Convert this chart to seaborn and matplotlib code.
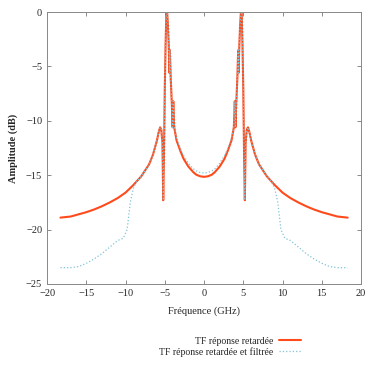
import numpy as np
import pandas as pd
import matplotlib
matplotlib.use("Agg")
import matplotlib.pyplot as plt
import seaborn as sns

# left half (x <= 0); the spectra are symmetric about 0 GHz
red_f_left = [-18.3, -17, -16, -15, -14, -13, -12, -11, -10, -9, -8, -7, -6.5, -6, -5.8, -5.6,
              -5.45, -5.3, -5.2, -5.1, -5.0, -4.9, -4.8, -4.7, -4.6, -4.5, -4.4, -4.35, -4.25,
              -4.1, -4.0, -3.92, -3.8, -3.5, -3.0, -2.6, -2.0, -1.4, -1.0, -0.5, 0.0]
red_left = [-18.9, -18.8, -18.6, -18.4, -18.15, -17.85, -17.5, -17.1, -16.6, -15.9, -15.1, -14.0,
            -13.1, -11.8, -11.1, -10.6, -10.8, -12.0, -17.3, -13.0, -7.0, -3.0, 0.0, 0.0, -1.2,
            -3.0, -5.6, -3.5, -6.0, -8.5, -10.6, -8.2, -10.6, -11.8, -12.8, -13.5, -14.2, -14.7,
            -14.95, -15.1, -15.15]

blue_f_left = [-18.3, -17, -16, -15, -14, -13, -12, -11, -10.3, -9.8, -9.4, -9.0, -8.6, -8, -7,
               -6.5, -6, -5.8, -5.6, -5.45, -5.3, -5.2, -5.1, -5.0, -4.9, -4.8, -4.7, -4.6, -4.5,
               -4.4, -4.35, -4.25, -4.1, -4.0, -3.92, -3.8, -3.5, -3.0, -2.6, -2.0, -1.4, -1.0,
               -0.5, 0.0]
blue_left = [-23.5, -23.5, -23.4, -23.1, -22.7, -22.2, -21.6, -21.0, -20.8, -20.0, -17.5, -16.2,
             -15.6, -15.1, -14.0, -13.1, -11.8, -11.1, -10.6, -10.8, -12.0, -17.3, -13.0, -7.0,
             -3.0, 0.0, 0.0, -1.2, -3.0, -5.6, -3.5, -6.0, -8.5, -10.6, -8.2, -10.5, -11.6,
             -12.6, -13.2, -13.9, -14.4, -14.6, -14.75, -14.8]

red_f = red_f_left + [-f for f in red_f_left[-2::-1]]
red = red_left + red_left[-2::-1]
blue_f = blue_f_left + [-f for f in blue_f_left[-2::-1]]
blue = blue_left + blue_left[-2::-1]

df_red = pd.DataFrame({"f": red_f, "amp": red})
df_blue = pd.DataFrame({"f": blue_f, "amp": blue})

sns.set_style("ticks")
plt.rcParams["font.family"] = ["Liberation Serif", "DejaVu Serif"]

fig = plt.figure(figsize=(3.65, 3.65), dpi=100)
ax = fig.add_axes([0.129, 0.222, 0.860, 0.745])

sns.lineplot(data=df_red, x="f", y="amp", ax=ax, color="#ff4a1c", lw=1.5,
             label="TF réponse retardée", sort=False, estimator=None)
sns.lineplot(data=df_blue, x="f", y="amp", ax=ax, color="#7fc4d8", lw=0.9, linestyle=":",
             label="TF réponse retardée et filtrée", sort=False, estimator=None)

ax.set_xlim(-20, 20)
ax.set_ylim(-25, 0)
ax.set_xticks([-20, -15, -10, -5, 0, 5, 10, 15, 20])
ax.set_yticks([0, -5, -10, -15, -20, -25])
ax.tick_params(direction="in", top=True, right=True, labelsize=7.5, length=3,
               color="#777777", width=0.6)
for s in ax.spines.values():
    s.set_color("#888888")
    s.set_linewidth(0.7)
ax.set_xlabel("Fréquence (GHz)", fontsize=7.5, labelpad=6)
ax.set_ylabel("Amplitude (dB)", fontsize=7.5, fontweight="bold", labelpad=6)

ax.get_legend().remove()
h, l = ax.get_legend_handles_labels()
leg = fig.legend(h, l, loc="center", bbox_to_anchor=(0.63, 0.05), frameon=False,
                 markerfirst=False, fontsize=7, handlelength=2.2, labelspacing=0.15,
                 handletextpad=0.6)
for t in leg.get_texts():
    t.set_ha("right")
leg._legend_box.align = "right"

fig.savefig("out.png", dpi=100)
